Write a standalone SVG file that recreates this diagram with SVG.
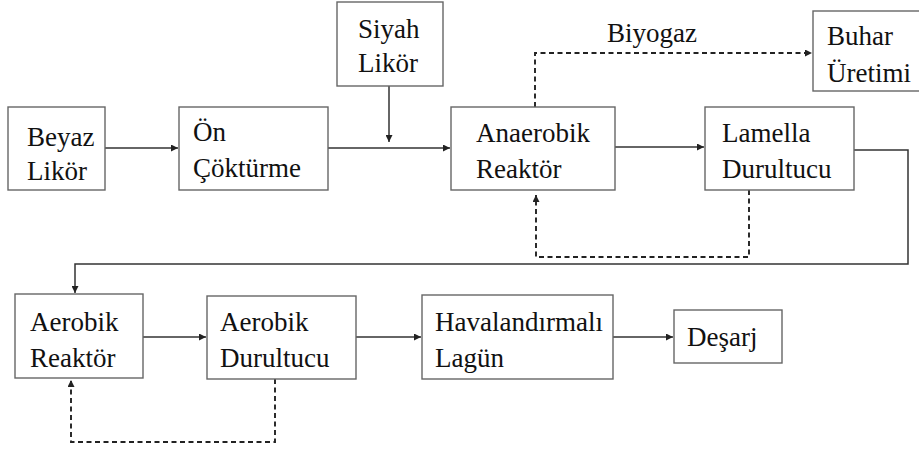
<svg xmlns="http://www.w3.org/2000/svg" width="919" height="450" viewBox="0 0 919 450">
<defs>
<marker id="ah" viewBox="0 0 10 10" refX="10" refY="5" markerWidth="9" markerHeight="7" markerUnits="userSpaceOnUse" orient="auto"><path d="M0,0 L10,5 L0,10 z" fill="#222"/></marker>
</defs>
<style>
.box{fill:#fff;stroke:#666;stroke-width:1.4}
.t{font-family:'Liberation Serif','Tinos','Noto Serif','DejaVu Serif','Times New Roman',Times,serif;font-size:27px;fill:#111}
.c{fill:none;stroke:#333;stroke-width:1.5}
.d{fill:none;stroke:#222;stroke-width:1.9;stroke-dasharray:5,3.5}
</style>
<rect width="919" height="450" fill="#fff"/>
<g id="connectors">
<path class="c" d="M105,148 L178,148" marker-end="url(#ah)"/>
<path class="c" d="M328,148 L450,148" marker-end="url(#ah)"/>
<path class="c" d="M389,86 L389,142" marker-end="url(#ah)"/>
<path class="c" d="M615,147 L704,147" marker-end="url(#ah)"/>
<path class="d" d="M535,107 L535,53 L812,53" marker-end="url(#ah)"/>
<path class="d" d="M749,190 L749,257 L536,257 L536,195" marker-end="url(#ah)"/>
<path class="c" d="M854,150 L908,150 L908,264 L75,264 L75,293" marker-end="url(#ah)"/>
<path class="c" d="M143,337 L206,337" marker-end="url(#ah)"/>
<path class="c" d="M356,337 L421,337" marker-end="url(#ah)"/>
<path class="c" d="M613,337 L673,337" marker-end="url(#ah)"/>
<path class="d" d="M275,379 L275,442 L71,442 L71,380" marker-end="url(#ah)"/>
</g>
<g id="beyaz"><rect class="box" x="8" y="107" width="97" height="83"/><text class="t" x="27" y="146">Beyaz</text><text class="t" x="27" y="180">Likör</text></g>
<g id="on"><rect class="box" x="179" y="107" width="149" height="83"/><text class="t" x="193" y="141">Ön</text><text class="t" x="193" y="177">Çöktürme</text></g>
<g id="siyah"><rect class="box" x="337" y="2" width="106" height="84"/><text class="t" x="358" y="38">Siyah</text><text class="t" x="358" y="72">Likör</text></g>
<g id="anaerobik"><rect class="box" x="451" y="107" width="164" height="83"/><text class="t" x="476" y="142">Anaerobik</text><text class="t" x="476" y="178">Reaktör</text></g>
<g id="lamella"><rect class="box" x="705" y="107" width="149" height="83"/><text class="t" x="722" y="142">Lamella</text><text class="t" x="722" y="178">Durultucu</text></g>
<g id="buhar"><rect class="box" x="813" y="11" width="110" height="80"/><text class="t" x="827" y="45">Buhar</text><text class="t" x="827" y="82">Üretimi</text></g>
<g id="biyogaz"><text class="t" x="607" y="42">Biyogaz</text></g>
<g id="aerobikR"><rect class="box" x="15" y="294" width="128" height="84"/><text class="t" x="30" y="331">Aerobik</text><text class="t" x="30" y="367">Reaktör</text></g>
<g id="aerobikD"><rect class="box" x="207" y="296" width="149" height="83"/><text class="t" x="220" y="331">Aerobik</text><text class="t" x="220" y="367">Durultucu</text></g>
<g id="lagun"><rect class="box" x="422" y="295" width="191" height="84"/><text class="t" x="435" y="331">Havalandırmalı</text><text class="t" x="435" y="367">Lagün</text></g>
<g id="desarj"><rect class="box" x="674" y="310" width="108" height="53"/><text class="t" x="687" y="346">Deşarj</text></g>
</svg>
